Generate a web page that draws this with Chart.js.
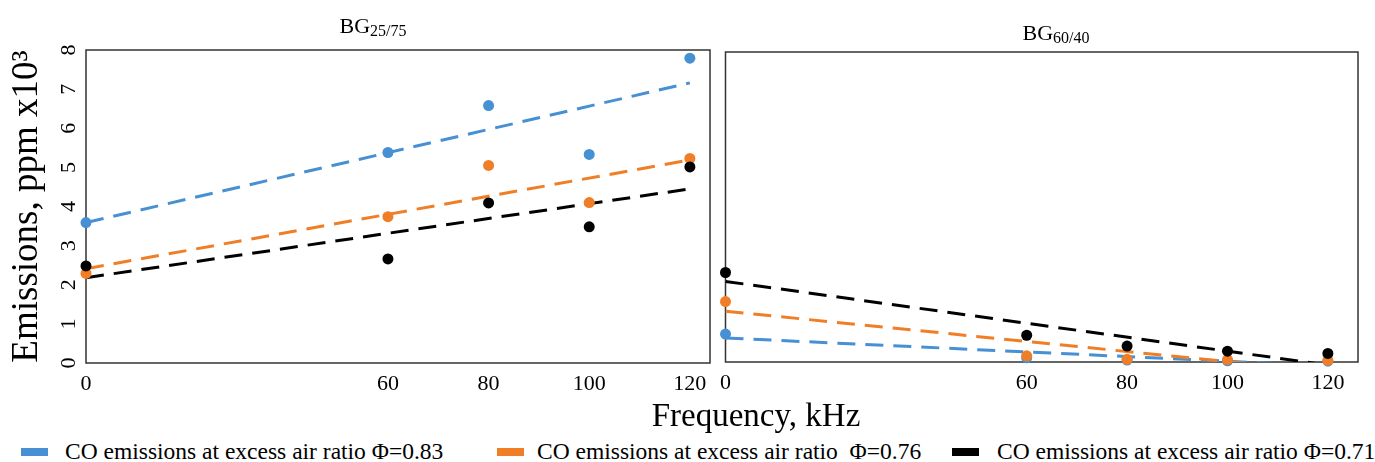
<!DOCTYPE html>
<html><head><meta charset="utf-8">
<script src="https://cdn.jsdelivr.net/npm/chart.js@4.4.0/dist/chart.umd.min.js"></script>
<style>
html,body{margin:0;padding:0;background:#fff;width:1375px;height:462px;overflow:hidden;font-family:"Liberation Serif",serif;color:#000}
canvas{position:absolute;top:0}
.ttl{position:absolute;font-size:22px;line-height:22px;white-space:nowrap;transform:translateX(-50%)}
.ttl sub{font-size:16px;vertical-align:baseline;position:relative;top:3px}
#xt{position:absolute;left:756px;top:399px;font-size:33px;line-height:33px;transform:translateX(-50%);white-space:nowrap}
.lg{position:absolute;top:440px;font-size:23.5px;line-height:23px;white-space:pre}
.sw{position:absolute;top:448px;width:27px;height:8px}
</style></head>
<body>
<canvas id="cA" width="718" height="400" style="left:0"></canvas>
<canvas id="cB" width="663" height="400" style="left:712px"></canvas>
<div class="ttl" style="left:373px;top:15px">BG<sub>25/75</sub></div>
<div class="ttl" style="left:1056px;top:22px">BG<sub>60/40</sub></div>
<div id="xt">Frequency, kHz</div>
<div class="sw" style="left:21px;background:#4690d3"></div>
<div class="lg" style="left:65px">CO emissions at excess air ratio Φ=0.83</div>
<div class="sw" style="left:497px;background:#f07e26"></div>
<div class="lg" style="left:537px">CO emissions at excess air ratio  Φ=0.76</div>
<div class="sw" style="left:952px;background:#000"></div>
<div class="lg" style="left:997px">CO emissions at excess air ratio Φ=0.71</div>
<script>
// ---- data (kHz, ppm x10^3) ----
const freqs = [0, 60, 80, 100, 120];
const xTicks = [0, 60, 80, 100, 120];
const yTicksMax = 8;
// BG 25/75
const bg2575_phi083 = [3.59, 5.38, 6.58, 5.33, 7.79];
const bg2575_phi076 = [2.29, 3.74, 5.05, 4.10, 5.23];
const bg2575_phi071 = [2.48, 2.66, 4.09, 3.48, 5.01];
// BG 60/40
const bg6040_phi083 = [0.72, 0.11, 0.05, 0.03, 0.02];
const bg6040_phi076 = [1.56, 0.16, 0.07, 0.06, 0.04];
const bg6040_phi071 = [2.31, 0.69, 0.41, 0.28, 0.22];
// linear trend lines, read at x = 0 and x = 120
const trendX = [0, 120];
const trend2575_phi083 = [3.59, 7.16];
const trend2575_phi076 = [2.41, 5.19];
const trend2575_phi071 = [2.18, 4.45];
const trend6040_phi083 = [0.62, -0.10];
const trend6040_phi076 = [1.31, -0.25];
const trend6040_phi071 = [2.08, -0.08];

const BLUE = '#4690d3', ORANGE = '#f07e26', BLACK = '#000000';
const FAM = '"Liberation Serif", "Times New Roman", serif';

const pts = (xs, ys) => xs.map((x, i) => ({x, y: ys[i]}));

function pointDs(ys, color, order) {
  return {data: pts(freqs, ys), backgroundColor: color, borderColor: color, pointRadius: 5.5,
    pointBorderWidth: 0, pointHoverRadius: 5.5, showLine: false, order, clip: false};
}
function trendDs(ys, color, order) {
  return {data: pts(trendX, ys), borderColor: color, backgroundColor: color, showLine: true,
    borderWidth: 3, borderDash: [18, 10], pointRadius: 0, pointHoverRadius: 0, order, clip: 0};
}

const frame = {
  id: 'frame',
  beforeDatasetsDraw(c) {
    const {ctx, chartArea: a} = c;
    ctx.save();
    ctx.strokeStyle = '#333';
    ctx.lineWidth = 1.5;
    ctx.strokeRect(a.left, a.top, a.right - a.left, a.bottom - a.top);
    ctx.restore();
  }
};

function xScale(max, h) {
  return {
    type: 'linear', min: 0, max,
    afterBuildTicks: s => { s.ticks = xTicks.map(v => ({value: v})); },
    afterFit: s => { s.height = h; },
    grid: {display: false, drawTicks: false}, border: {display: false},
    ticks: {autoSkip: false, padding: 8, color: '#000', maxRotation: 0, font: {family: FAM, size: 22}}
  };
}

new Chart(document.getElementById('cA'), {
  type: 'scatter',
  data: {datasets: [
    pointDs(bg2575_phi071, BLACK, 0),
    pointDs(bg2575_phi076, ORANGE, 1),
    pointDs(bg2575_phi083, BLUE, 2),
    trendDs(trend2575_phi071, BLACK, 3),
    trendDs(trend2575_phi076, ORANGE, 4),
    trendDs(trend2575_phi083, BLUE, 5)
  ]},
  options: {
    responsive: false, animation: false, events: [],
    layout: {padding: {top: 50, right: 8, left: 0, bottom: 0}},
    plugins: {legend: {display: false}, tooltip: {enabled: false}},
    scales: {
      x: xScale(124, 37),
      y: {
        min: 0, max: yTicksMax,
        afterFit: s => { s.width = 86; },
        grid: {display: false, drawTicks: false}, border: {display: false},
        ticks: {stepSize: 1, minRotation: 90, maxRotation: 90, crossAlign: 'center', padding: 11,
          color: '#000', font: {family: FAM, size: 22}},
        title: {display: true, text: 'Emissions, ppm x10³', color: '#000',
          font: {family: FAM, size: 37}, padding: {top: 5, bottom: 0}}
      }
    }
  },
  plugins: [frame]
});

new Chart(document.getElementById('cB'), {
  type: 'scatter',
  data: {datasets: [
    pointDs(bg6040_phi071, BLACK, 0),
    pointDs(bg6040_phi076, ORANGE, 1),
    pointDs(bg6040_phi083, BLUE, 2),
    trendDs(trend6040_phi071, BLACK, 3),
    trendDs(trend6040_phi076, ORANGE, 4),
    trendDs(trend6040_phi083, BLUE, 5)
  ]},
  options: {
    responsive: false, animation: false, events: [],
    layout: {padding: {top: 52, right: 17, left: 0, bottom: 0}},
    plugins: {legend: {display: false}, tooltip: {enabled: false}},
    scales: {
      x: xScale(126, 38),
      y: {
        min: 0, max: yTicksMax,
        afterFit: s => { s.width = 7; },
        grid: {display: false, drawTicks: false}, border: {display: false},
        ticks: {display: false}
      }
    }
  },
  plugins: [frame]
});
</script>
</body></html>
